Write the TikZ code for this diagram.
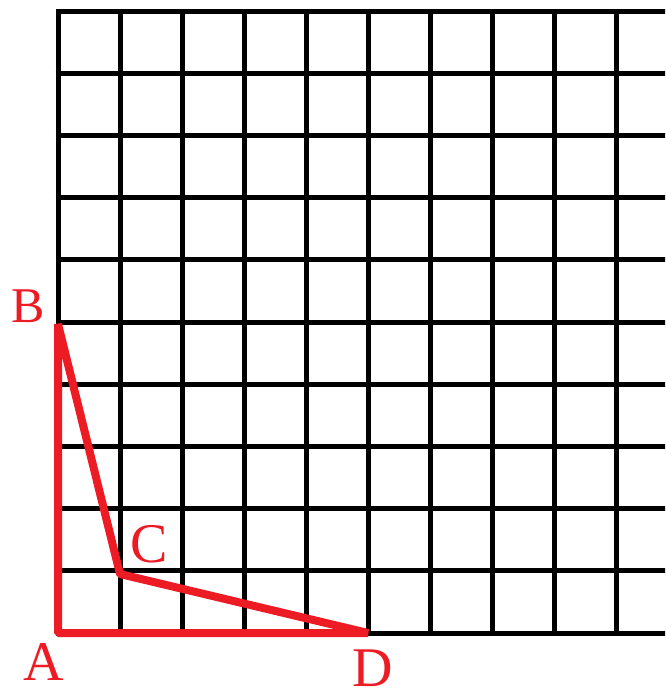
\documentclass[tikz,border=0pt]{standalone}
\usepackage{fontspec}
\setmainfont{Liberation Serif}
\definecolor{pred}{RGB}{237,28,36}
\begin{document}
\begin{tikzpicture}[x=1pt,y=-1pt,
  gridline/.style={black,line width=5pt},
  redline/.style={pred,line width=8pt,line join=bevel},
  lbl/.style={text=pred,inner sep=0pt,font=\fontsize{56}{56}\selectfont}]
\useasboundingbox (0,0) rectangle (665,691);
\clip (0,0) rectangle (665,691);
% grid
\foreach \k in {0,...,9}{
  \draw[gridline] (58+62*\k,11) -- (58+62*\k,633);
}
\foreach \k in {0,...,10}{
  \draw[gridline] (55.5,11+62.2*\k) -- (670,11+62.2*\k);
}
% points
\coordinate (A) at (58,633);
\coordinate (B) at (58,324);
\coordinate (C) at (120,574);
\coordinate (D) at (368,633);
\draw[redline] (A) -- (B) -- (C) -- (D) -- cycle;
% labels
\node[lbl,font=\fontsize{50}{50}\selectfont] (lB) at (28.5,306.5) {B};
\node[lbl] (lA) at (44,662) {A};
\node[lbl] (lC) at (149.5,544) {C};
\node[lbl] (lD) at (372.5,668) {D};
\end{tikzpicture}
\end{document}
